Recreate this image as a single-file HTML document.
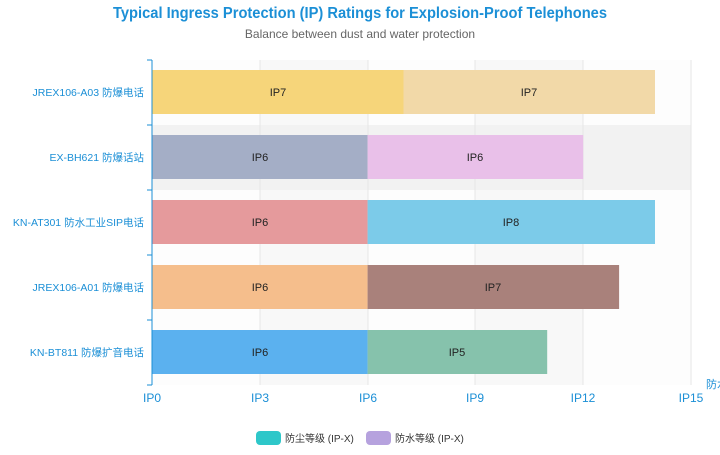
<!DOCTYPE html>
<html><head><meta charset="utf-8"><style>
body{margin:0;width:720px;height:450px;background:#fff;overflow:hidden;font-family:"Liberation Sans","Noto Sans CJK SC",sans-serif}
</style></head><body>
<svg width="720" height="450" xmlns="http://www.w3.org/2000/svg" font-family="Liberation Sans, Noto Sans CJK SC, sans-serif">
<text x="113" y="18" font-size="16" font-weight="bold" fill="#1b8fd6" textLength="494" lengthAdjust="spacingAndGlyphs">Typical Ingress Protection (IP) Ratings for Explosion-Proof Telephones</text>
<text x="360" y="38" text-anchor="middle" font-size="12" fill="#666">Balance between dust and water protection</text>
<rect x="152" y="60" width="539" height="325" fill="#fdfdfd"/>
<rect x="260" y="60" width="108" height="325" fill="#f8f8f8"/>
<rect x="475" y="60" width="108" height="325" fill="#f8f8f8"/>
<rect x="152" y="125" width="539" height="65" fill="#f2f2f2"/>
<g stroke="#e6e6e6"><line x1="260" y1="60" x2="260" y2="385"/><line x1="368" y1="60" x2="368" y2="385"/><line x1="475" y1="60" x2="475" y2="385"/><line x1="583" y1="60" x2="583" y2="385"/><line x1="691" y1="60" x2="691" y2="385"/></g>
<g font-size="11" fill="#222" text-anchor="middle">
<rect x="152" y="70" width="251.5" height="44" fill="#f6d57a"/><rect x="403.5" y="70" width="251.5" height="44" fill="#f2d9a8"/>
<text x="278" y="96">IP7</text><text x="529" y="96">IP7</text>
<rect x="152" y="135" width="215.6" height="44" fill="#a4aec6"/><rect x="367.6" y="135" width="215.6" height="44" fill="#e9c0e9"/>
<text x="260" y="161">IP6</text><text x="475" y="161">IP6</text>
<rect x="152" y="200" width="215.6" height="44" fill="#e59a9c"/><rect x="367.6" y="200" width="287.4" height="44" fill="#7ccbe9"/>
<text x="260" y="226">IP6</text><text x="511" y="226">IP8</text>
<rect x="152" y="265" width="215.6" height="44" fill="#f5be8c"/><rect x="367.6" y="265" width="251.5" height="44" fill="#a9817b"/>
<text x="260" y="291">IP6</text><text x="493" y="291">IP7</text>
<rect x="152" y="330" width="215.6" height="44" fill="#5bb1ef"/><rect x="367.6" y="330" width="179.6" height="44" fill="#86c2ac"/>
<text x="260" y="356">IP6</text><text x="457" y="356">IP5</text>
</g>
<g stroke="#1b8fd6"><line x1="152" y1="60" x2="152" y2="385"/>
<line x1="147" y1="60" x2="152" y2="60"/><line x1="147" y1="125" x2="152" y2="125"/><line x1="147" y1="190" x2="152" y2="190"/><line x1="147" y1="255" x2="152" y2="255"/><line x1="147" y1="320" x2="152" y2="320"/><line x1="147" y1="385" x2="152" y2="385"/></g>
<g font-size="10.5" fill="#1b8fd6" text-anchor="end">
<text x="144" y="96">JREX106-A03 防爆电话</text>
<text x="144" y="161">EX-BH621 防爆话站</text>
<text x="144" y="226">KN-AT301 防水工业SIP电话</text>
<text x="144" y="291">JREX106-A01 防爆电话</text>
<text x="144" y="356">KN-BT811 防爆扩音电话</text>
</g>
<g font-size="12" fill="#1b8fd6" text-anchor="middle">
<text x="152" y="402">IP0</text><text x="260" y="402">IP3</text><text x="368" y="402">IP6</text><text x="475" y="402">IP9</text><text x="583" y="402">IP12</text><text x="691" y="402">IP15</text>
</g>
<text x="706" y="388" font-size="11" fill="#1b8fd6">防水等级</text>
<rect x="256" y="431" width="25" height="14" rx="4" fill="#2ec7c9"/>
<text x="285" y="442" font-size="10" fill="#333">防尘等级 (IP-X)</text>
<rect x="366" y="431" width="25" height="14" rx="4" fill="#b6a2de"/>
<text x="395" y="442" font-size="10" fill="#333">防水等级 (IP-X)</text>
</svg>
</body></html>
